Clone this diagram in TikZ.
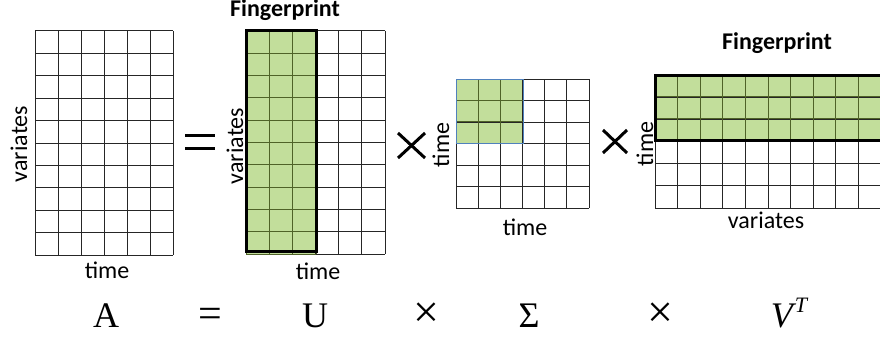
\documentclass[tikz,border=0pt]{standalone}
\usepackage{fontspec}
\setmainfont{Carlito}
\newfontfamily\eqfont{Liberation Serif}
\definecolor{fpgreen}{RGB}{194,222,155}
\definecolor{fpline}{RGB}{79,98,40}
\definecolor{sigblue}{RGB}{79,129,189}
\newcommand{\gridbox}[7][]{%
  \foreach \i in {0,...,#6}{\draw[gridline,#1] ({#2+(#4-#2)*\i/#6},#3) -- ({#2+(#4-#2)*\i/#6},#5);}%
  \foreach \j in {0,...,#7}{\draw[gridline,#1] (#2,{#3+(#5-#3)*\j/#7}) -- (#4,{#3+(#5-#3)*\j/#7});}%
}
\begin{document}
\begin{tikzpicture}[x=1pt,y=-1pt,
  gridline/.style={draw=black!85,line width=1pt},
  greenline/.style={draw=fpline,line width=1pt},
  fpbox/.style={draw=black,line width=3pt},
  opline/.style={draw=black,line width=3pt},
  lbl/.style={font=\fontsize{24}{28}\selectfont,inner sep=0pt},
  fplbl/.style={font=\fontsize{24}{28}\selectfont\bfseries,inner sep=0pt,anchor=base},
  eq/.style={font=\eqfont\fontsize{36}{40}\selectfont,inner sep=0pt,anchor=base},
  eqop/.style={font=\eqfont\fontsize{46}{48}\selectfont,inner sep=0pt,anchor=center}]
\useasboundingbox (0,0) rectangle (880,337);
\clip (0,0) rectangle (880,337);
% ---- A ----
\gridbox{35}{31}{173}{255}{6}{10}
\node[lbl,rotate=90] (avar) at (19,144) {variates};
\node[lbl,anchor=base] (atime) at (107,278) {time};
% ---- = ----
\draw[opline] (185,135) -- (215,135);
\draw[opline] (185,148) -- (215,148);
% ---- U ----
\fill[fpgreen] (246,31) rectangle (316,254);
\gridbox{246}{31}{385}{254}{6}{10}
\gridbox[greenline]{246}{31}{316}{254}{3}{10}
\draw[fpbox] (246,31) rectangle (316,251);
\node[fplbl] (ufp) at (285,17) {Fingerprint};
\node[lbl,rotate=90] (uvar) at (235,146) {variates};
\node[lbl,anchor=base] (utime) at (318,279) {time};
% ---- x ----
\draw[opline] (398,133) -- (425,158);
\draw[opline] (398,158) -- (425,133);
% ---- Sigma ----
\fill[fpgreen] (456,79) rectangle (523,143);
\gridbox{456}{79}{589}{208}{6}{6}
\gridbox[greenline]{456}{79}{523}{143}{3}{3}
\draw[sigblue,line width=1pt] (456,79) rectangle (523,143);
\node[lbl,rotate=90] (stime) at (441,145) {time};
\node[lbl,anchor=base] (stime2) at (525,235) {time};
% ---- x ----
\draw[opline] (603,130) -- (627,153);
\draw[opline] (603,153) -- (627,130);
% ---- V^T ----
\fill[fpgreen] (655,75) rectangle (881,140);
\node[lbl,rotate=90] (vtime) at (645,144) {time};
\gridbox{655}{75}{881}{208}{10}{6}
\gridbox[greenline]{655}{75}{881}{140}{10}{3}
\draw[fpbox] (655,75) rectangle (881,140);
\node[fplbl] (vfp) at (777,50) {Fingerprint};
\node[lbl,anchor=base] (vvar) at (766,228) {variates};
% ---- equation ----
\node[eq] (eA) at (106,327) {A};
\node[eq,font=\eqfont\fontsize{42}{44}\selectfont] (eeq) at (210,327) {=};
\node[eq] (eU) at (315,327) {U};
\node[eqop] (ex1) at (426,315) {×};
\node[eq] (eS) at (529,327) {Σ};
\node[eqop] (ex2) at (660,315) {×};
\node[eq] (eV) at (789,327) {\itshape V\kern2pt\raisebox{15pt}{\fontsize{22}{24}\selectfont T}};
\end{tikzpicture}
\end{document}
